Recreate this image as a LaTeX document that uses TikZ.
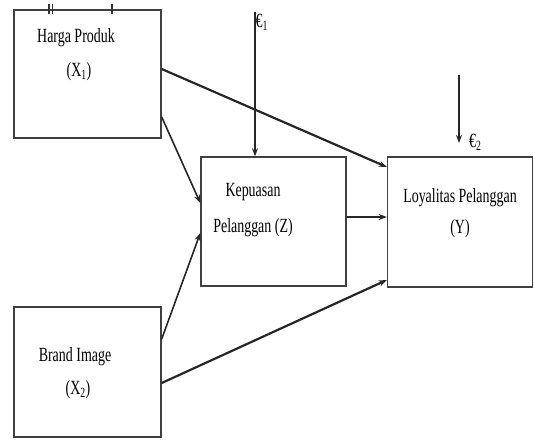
\documentclass[tikz,border=0pt]{standalone}
\usepackage{fontspec}
\setmainfont{Liberation Serif}
\usetikzlibrary{arrows.meta,calc}
\tikzset{
  boxnode/.style={draw=black!75,line width=1.4pt,minimum width=#1,inner sep=0pt},
  lbl/.style={inner sep=0pt,font=\fontsize{15.5}{17}\selectfont},
  path1/.style={draw=black!85,line width=2.2pt,-{Stealth[length=8pt,width=6pt]}},
  path2/.style={draw=black!85,line width=1.6pt,-{Stealth[length=8pt,width=6pt]}},
}
\newcommand{\tall}[1]{\scalebox{0.9}[1.3]{#1}}
\begin{document}
\begin{tikzpicture}[x=1pt,y=-1pt]
\useasboundingbox (0,0) rectangle (534,439);
% boxes
\node[boxnode=147pt,minimum height=128pt] (x1) at (87.5,74) {};
\node[boxnode=147pt,minimum height=130pt] (x2) at (87.5,372) {};
\node[boxnode=145pt,minimum height=129pt] (z) at (273.5,221.5) {};
\node[boxnode=145pt,minimum height=130pt] (y) at (460,222) {};
% tick marks on top of X1
\draw[black!80,line width=1.5pt] (49,4) -- (49,14) (52.5,4) -- (52.5,14) (112,4) -- (112,14);
% labels
\node[lbl] (t1) at (76,38) {\tall{Harga Produk}};
\node[lbl] (t2) at (79,72) {\tall{(X\textsubscript{1})}};
\node[lbl] (t3) at (253,192) {\tall{Kepuasan}};
\node[lbl] (t4) at (253,228) {\tall{Pelanggan (Z)}};
\node[lbl] (t5) at (460,198) {\tall{Loyalitas Pelanggan}};
\node[lbl] (t6) at (460,229) {\tall{(Y)}};
\node[lbl] (t7) at (75,357) {\tall{Brand Image}};
\node[lbl] (t8) at (78,390) {\tall{(X\textsubscript{2})}};
% error terms
\coordinate (e1s) at (255,12);
\coordinate (e2s) at (459,75);
\coordinate (e2e) at (459,143);
\node[lbl,anchor=west] (e1) at (255.5,22) {\tall{€\textsubscript{1}}};
\node[lbl,anchor=west] (e2) at (469,142) {\tall{€\textsubscript{2}}};
\draw[path2] (e1s) -- (e1s |- z.north);
\draw[path2] (e2s) -- (e2e);
% paths
\draw[path1] (x1.east |- 0,69) -- (y.west |- 0,167);
\draw[path2] (x1.east |- 0,117) -- (z.west |- 0,203);
\draw[path2] (x2.east |- 0,339) -- (z.west |- 0,233);
\draw[path1] (x2.east |- 0,383) -- (y.west |- 0,280);
\draw[path1,line width=2.8pt] (z.east |- 0,217) -- (y.west |- 0,217);
\end{tikzpicture}
\end{document}
